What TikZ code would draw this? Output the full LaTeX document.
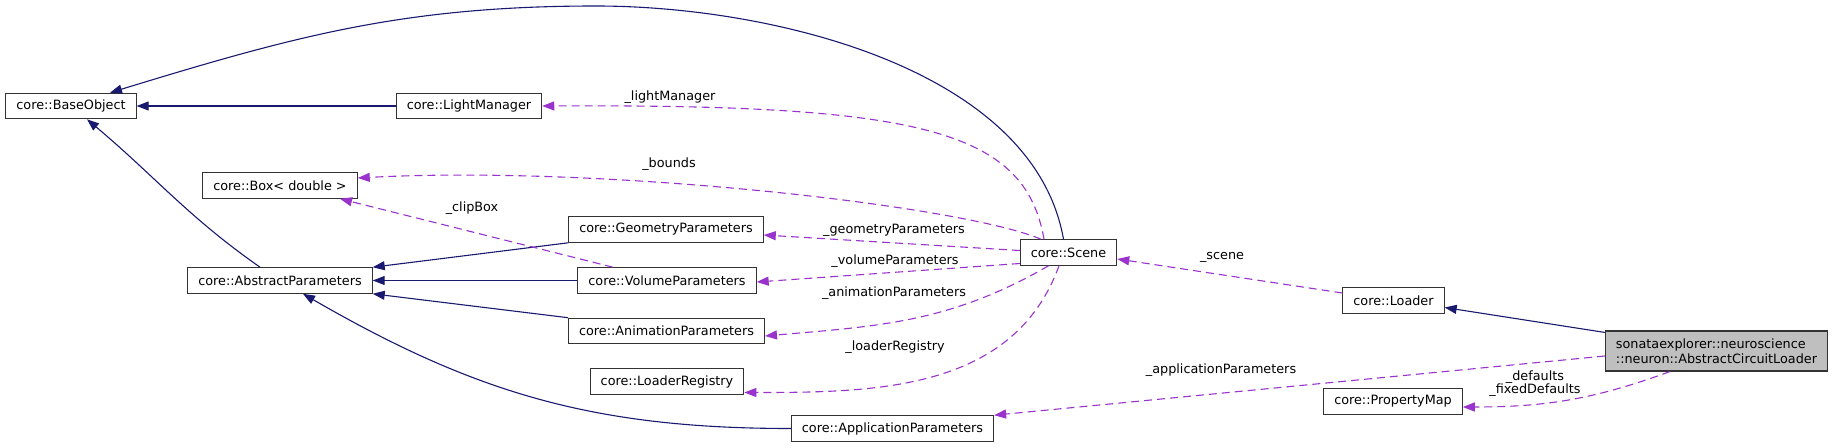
\documentclass[tikz,border=0pt]{standalone}
\usepackage{fontspec}
\setmainfont{DejaVu Sans}
\usetikzlibrary{arrows.meta}
\definecolor{inhblue}{RGB}{25,25,112}
\definecolor{usepurple}{RGB}{154,50,205}
\definecolor{curgray}{RGB}{191,191,191}

\begin{document}
\begin{tikzpicture}[
  x=1pt, y=1pt,
  every node/.style={font=\fontsize{12.8}{15}\selectfont},
  cls/.style={draw=black!80, line width=1.1pt, rectangle, minimum height=25.5pt,
              inner xsep=10.5pt, inner ysep=2pt, fill=white},
  cur/.style={cls, fill=curgray, align=left, minimum height=40pt},
  inh/.style={-{Triangle[length=12pt,width=9pt]}, line width=1.1pt, inhblue},
  use/.style={-{Triangle[length=12pt,width=9pt]}, line width=1.1pt, usepurple,
              dash pattern=on 8pt off 5pt},
  lbl/.style={inner sep=0pt}
]
\useasboundingbox (0,0) rectangle (1833,-447);
% classes
\node[cls] (base)   at (71,-106)     {core::BaseObject};
\node[cls] (light)  at (469,-106)    {core::LightManager};
\node[cls] (box)    at (280,-185.5)  {core::Box< double >};
\node[cls] (abs)    at (280,-280.5)  {core::AbstractParameters};
\node[cls] (geom)   at (666,-229.5)  {core::GeometryParameters};
\node[cls] (vol)    at (667,-280.5)  {core::VolumeParameters};
\node[cls] (anim)   at (666.5,-331)  {core::AnimationParameters};
\node[cls] (reg)    at (667,-381.5)  {core::LoaderRegistry};
\node[cls] (app)    at (892.5,-428.5) {core::ApplicationParameters};
\node[cls] (scene)  at (1068.5,-252.5) {core::Scene};
\node[cls] (loader) at (1393.5,-300.5) {core::Loader};
\node[cls] (pmap)   at (1393,-401.5) {core::PropertyMap};
\node[cur] (acl)    at (1716.5,-351)
  {sonataexplorer::neuroscience\\::neuron::AbstractCircuitLoader};
% inheritance
\coordinate (apex) at (596,-6);
\draw[inh] ([xshift=-5pt]scene.north) to[out=100,in=0,looseness=0.85] (apex)
  to[out=180,in=17] ([xshift=39pt]base.north);
\draw[inh] (light) -- (base);
\draw[inh] ([xshift=-20pt]abs.north) to[out=145,in=-40] ([xshift=16pt]base.south);
\draw[inh] (geom.south west) -- (abs.north east);
\draw[inh] (vol) -- (abs);
\draw[inh] (anim.north west) -- (abs.south east);
\draw[inh] (app.west) to[out=180,in=-30] ([xshift=23pt]abs.south);
\draw[inh] ([yshift=-2pt]acl.north west) -- ([yshift=-7pt]loader.east);
% usage
\draw[use] ([xshift=-24.5pt]scene.north) .. controls (1025,-130) and (920,-104) .. (light.east);
\draw[use] ([xshift=-27.5pt]scene.north) .. controls (960,-205) and (600,-165) .. ([yshift=7.5pt]box.east);
\draw[use] ([xshift=-54pt]vol.north) -- ([xshift=60pt]box.south);
\draw[use] ([yshift=2pt]scene.west) -- ([yshift=-5.5pt]geom.east);
\draw[use] ([yshift=-11pt]scene.west) -- ([yshift=-1.5pt]vol.east);
\draw[use] ([xshift=-20pt]scene.south) to[out=210,in=5] ([yshift=-5pt]anim.east);
\draw[use] ([xshift=-9.5pt]scene.south) to[out=250,in=0] ([yshift=-11pt]reg.east);
\draw[use] ([yshift=7.5pt]loader.west) -- ([yshift=-6.5pt]scene.east);
\draw[use] ([yshift=-5pt]acl.west) -- (app.north east);
\draw[use] ([xshift=-46.5pt]acl.south) to[out=200,in=0] ([yshift=-5.5pt]pmap.east);
% member names
\node[lbl] (llight)  at (670,-97)   {\_lightManager};
\node[lbl] (lbounds) at (669,-164)  {\_bounds};
\node[lbl] (lclip)   at (472,-208)  {\_clipBox};
\node[lbl] (lgeom)   at (894,-230)  {\_geometryParameters};
\node[lbl] (lvol)    at (895,-261)  {\_volumeParameters};
\node[lbl] (lanim)   at (894,-293)  {\_animationParameters};
\node[lbl] (lreg)    at (895,-347)  {\_loaderRegistry};
\node[lbl] (lscene)  at (1222,-257) {\_scene};
\node[lbl] (lapp)    at (1221,-370) {\_applicationParameters};
\node[lbl, align=center, font=\fontsize{12.8}{13.3}\selectfont] (lpmap) at (1535,-383.5)
  {\_defaults\\\_fixedDefaults};
\end{tikzpicture}
\end{document}
